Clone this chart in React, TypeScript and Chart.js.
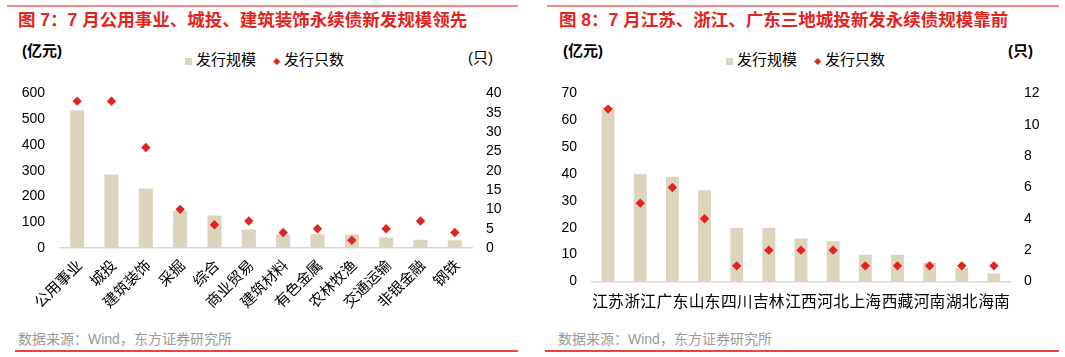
import React, { useEffect, useRef } from 'react';
import { Chart, registerables } from 'chart.js';

Chart.register(...registerables);

const FONT = "'Liberation Sans', Arial, 'Noto Sans CJK SC', sans-serif";
const BAR_COLOR = '#DDD4BD';
const DOT_COLOR = '#E2231F';
const TITLE_COLOR = '#E3231E';

// Chart 1: industries
const industryLabels = ['公用事业', '城投', '建筑装饰', '采掘', '综合', '商业贸易', '建筑材料', '有色金属', '农林牧渔', '交通运输', '非银金融', '钢铁'];
const industryScale = [535, 285, 231, 144, 126, 72, 53, 53, 52, 41, 32, 30];
const industryCount = [38, 38, 26, 10, 6, 7, 4, 5, 2, 5, 7, 4];
const industryScaleTicks = [0, 100, 200, 300, 400, 500, 600];
const industryCountTicks = [0, 5, 10, 15, 20, 25, 30, 35, 40];

// Chart 2: provinces
const provinceLabels = ['江苏', '浙江', '广东', '山东', '四川', '吉林', '江西', '河北', '上海', '西藏', '河南', '湖北', '海南'];
const provinceScale = [65, 40, 39, 34, 20, 20, 16, 15, 10, 10, 7, 5, 3];
const provinceCount = [11, 5, 6, 4, 1, 2, 2, 2, 1, 1, 1, 1, 1];
const provinceScaleTicks = [0, 10, 20, 30, 40, 50, 60, 70];
const provinceCountTicks = [0, 2, 4, 6, 8, 10, 12];

type ComboProps = {
  labels: string[];
  scale: number[];
  count: number[];
  yTicks: number[];
  y1Ticks: number[];
  width: number;
  height: number;
  padTop: number;
  yW: number;
  y1W: number;
  xH: number;
  rotate: number;
  xPad: number;
  xFont: number;
  labelOffset: number;
  barPct: number;
  left: number;
  top: number;
};

function ComboChart(p: ComboProps) {
  const ref = useRef<HTMLCanvasElement>(null);
  useEffect(() => {
    const fixTicks = (vals: number[]) => (s: any) => {
      s.ticks = vals.map((v) => ({ value: v }));
    };
    const chart = new Chart(ref.current as HTMLCanvasElement, {
      type: 'bar',
      data: {
        labels: p.labels,
        datasets: [
          {
            type: 'bar',
            label: '发行规模',
            data: p.scale,
            backgroundColor: BAR_COLOR,
            borderWidth: 0,
            categoryPercentage: 1,
            barPercentage: p.barPct,
            yAxisID: 'y',
            order: 2,
          } as any,
          {
            type: 'line',
            label: '发行只数',
            data: p.count,
            showLine: false,
            pointStyle: 'rectRot',
            pointRadius: 4.7,
            pointHoverRadius: 4.7,
            pointBorderWidth: 0,
            pointBackgroundColor: DOT_COLOR,
            pointBorderColor: DOT_COLOR,
            borderColor: DOT_COLOR,
            backgroundColor: DOT_COLOR,
            yAxisID: 'y1',
            order: 1,
          } as any,
        ],
      },
      options: {
        responsive: false,
        animation: false,
        devicePixelRatio: 1,
        events: [],
        layout: { padding: { top: p.padTop, left: 0, right: 0, bottom: 0 } },
        plugins: {
          legend: { display: false },
          tooltip: { enabled: false },
          title: { display: false },
        },
        scales: {
          x: {
            grid: { display: false, drawTicks: false },
            border: { display: true, color: '#D9D9D9', width: 1.5 },
            ticks: {
              autoSkip: false,
              maxRotation: p.rotate,
              minRotation: p.rotate,
              padding: p.xPad,
              labelOffset: p.labelOffset,
              color: '#000',
              font: { family: FONT, size: p.xFont },
            },
            afterFit: (s: any) => {
              s.height = p.xH;
            },
          },
          y: {
            position: 'left',
            min: p.yTicks[0],
            max: p.yTicks[p.yTicks.length - 1],
            grid: { display: false, drawTicks: false },
            border: { display: false },
            afterBuildTicks: fixTicks(p.yTicks),
            ticks: {
              autoSkip: false,
              padding: 15,
              color: '#000',
              font: { family: FONT, size: 14 },
            },
            afterFit: (s: any) => {
              s.width = p.yW;
            },
          },
          y1: {
            position: 'right',
            min: p.y1Ticks[0],
            max: p.y1Ticks[p.y1Ticks.length - 1],
            grid: { display: false, drawTicks: false },
            border: { display: false },
            afterBuildTicks: fixTicks(p.y1Ticks),
            ticks: {
              autoSkip: false,
              padding: 14,
              color: '#000',
              font: { family: FONT, size: 14 },
            },
            afterFit: (s: any) => {
              s.width = p.y1W;
            },
          },
        },
      } as any,
    });
    return () => chart.destroy();
  }, []);
  return (
    <canvas
      ref={ref}
      width={p.width}
      height={p.height}
      style={{ position: 'absolute', left: p.left, top: p.top, width: p.width, height: p.height, display: 'block' }}
    />
  );
}

const abs = (s: React.CSSProperties): React.CSSProperties => ({ position: 'absolute', whiteSpace: 'nowrap', ...s });

function Legend({ sqX, txt1X, dX, txt2X }: { sqX: number; txt1X: number; dX: number; txt2X: number }) {
  return (
    <>
      <div style={abs({ left: sqX, top: 58, width: 7, height: 7, background: BAR_COLOR })} />
      <div style={abs({ left: txt1X, top: 51, fontSize: 15, lineHeight: '18px', color: '#000' })}>发行规模</div>
      <div style={abs({ left: dX - 2.7, top: 58.8, width: 5.4, height: 5.4, background: DOT_COLOR, transform: 'rotate(45deg)' })} />
      <div style={abs({ left: txt2X, top: 51, fontSize: 15, lineHeight: '18px', color: '#000' })}>发行只数</div>
    </>
  );
}

export default function App() {
  return (
    <div
      style={{
        position: 'fixed',
        left: 0,
        top: 0,
        width: 1065,
        height: 357,
        background: '#fff',
        fontFamily: FONT,
        overflow: 'hidden',
      }}
    >
      {/* Left panel */}
      <div style={abs({ left: 7, top: 5, width: 511, height: 2, background: '#F08A85' })} />
      <div style={abs({ left: 18, top: 10, fontSize: 17.5, lineHeight: '20px', fontWeight: 'bold', color: TITLE_COLOR })}>
        图 7：7 月公用事业、城投、建筑装饰永续债新发规模领先
      </div>
      <div style={abs({ left: 22, top: 42, fontSize: 15, lineHeight: '18px', fontWeight: 'bold', color: '#000' })}>(亿元)</div>
      <div style={abs({ left: 468, top: 49, fontSize: 15, lineHeight: '18px', color: '#000' })}>(只)</div>
      <Legend sqX={185} txt1X={196} dX={277} txt2X={284} />
      <ComboChart
        labels={industryLabels}
        scale={industryScale}
        count={industryCount}
        yTicks={industryScaleTicks}
        y1Ticks={industryCountTicks}
        width={511}
        height={260}
        left={7}
        top={70}
        padTop={17}
        yW={53}
        y1W={46}
        xH={82}
        rotate={45}
        xPad={9}
        xFont={15}
        labelOffset={3}
        barPct={0.41}
      />
      <div style={abs({ left: 18, top: 330, fontSize: 14, lineHeight: '18px', color: '#999' })}>数据来源：Wind，东方证券研究所</div>
      <div style={abs({ left: 15, top: 350, width: 503, height: 2, background: '#E8463F' })} />

      {/* Right panel */}
      <div style={abs({ left: 547, top: 5, width: 512, height: 2, background: '#F08A85' })} />
      <div style={abs({ left: 559, top: 10, fontSize: 17.5, lineHeight: '20px', fontWeight: 'bold', color: TITLE_COLOR })}>
        图 8：7 月江苏、浙江、广东三地城投新发永续债规模靠前
      </div>
      <div style={abs({ left: 563, top: 42, fontSize: 15, lineHeight: '18px', fontWeight: 'bold', color: '#000' })}>(亿元)</div>
      <div style={abs({ left: 1008, top: 42, fontSize: 15, lineHeight: '18px', fontWeight: 'bold', color: '#000' })}>(只)</div>
      <Legend sqX={726} txt1X={737} dX={818} txt2X={825} />
      <ComboChart
        labels={provinceLabels}
        scale={provinceScale}
        count={provinceCount}
        yTicks={provinceScaleTicks}
        y1Ticks={provinceCountTicks}
        width={512}
        height={260}
        left={547}
        top={70}
        padTop={16.5}
        yW={45}
        y1W={49}
        xH={48.5}
        rotate={0}
        xPad={11.5}
        xFont={15.8}
        labelOffset={0}
        barPct={0.4}
      />
      <div style={abs({ left: 558, top: 330, fontSize: 14, lineHeight: '18px', color: '#999' })}>数据来源：Wind，东方证券研究所</div>
      <div style={abs({ left: 545, top: 350, width: 514, height: 2, background: '#E8463F' })} />
    </div>
  );
}
